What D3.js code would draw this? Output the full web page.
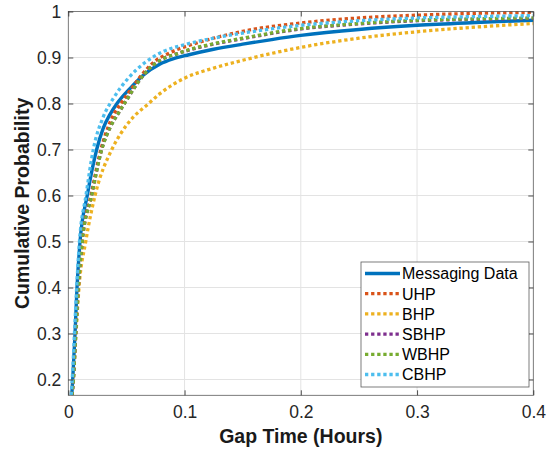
<!DOCTYPE html>
<html>
<head>
<meta charset="utf-8">
<script src="https://cdn.jsdelivr.net/npm/d3@7/dist/d3.min.js"></script>
<style>
  html, body { margin: 0; padding: 0; background: #fff; }
  svg { display: block; font-family: "Liberation Sans", Arial, Helvetica, sans-serif; }
</style>
</head>
<body>
<svg id="chart" width="552" height="452"></svg>
<script>
// Empirical CDF of message gap times and the fitted Hawkes-process models
const messagingGap  = [0.0030, 0.0038, 0.0058, 0.0075, 0.0101, 0.0163, 0.0244, 0.030, 0.036, 0.0419, 0.0532, 0.0647, 0.079, 0.090, 0.1037, 0.125, 0.150, 0.175, 0.200, 0.250, 0.300, 0.350, 0.400];
const messagingProb = [0.166, 0.200, 0.300, 0.400, 0.500, 0.600, 0.700, 0.746, 0.777, 0.800, 0.833, 0.862, 0.886, 0.897, 0.906, 0.918, 0.929, 0.939, 0.948, 0.961, 0.970, 0.976, 0.981];

const uhpGap  = [0.0031, 0.0042, 0.0062, 0.0083, 0.0115, 0.0195, 0.0280, 0.0360, 0.0474, 0.0546, 0.0618, 0.069, 0.0761, 0.0848, 0.0934, 0.1037, 0.125, 0.150, 0.200, 0.250, 0.300, 0.350, 0.400];
const uhpProb = [0.166, 0.200, 0.300, 0.400, 0.500, 0.600, 0.700, 0.760, 0.808, 0.833, 0.858, 0.879, 0.895, 0.907, 0.917, 0.926, 0.942, 0.957, 0.975, 0.986, 0.992, 0.996, 0.998];

const bhpGap  = [0.0032, 0.0043, 0.0066, 0.0092, 0.0150, 0.0230, 0.0374, 0.0455, 0.055, 0.0687, 0.0791, 0.1000, 0.125, 0.150, 0.200, 0.250, 0.300, 0.350, 0.400];
const bhpProb = [0.166, 0.200, 0.300, 0.400, 0.500, 0.600, 0.700, 0.736, 0.768, 0.799, 0.822, 0.855, 0.877, 0.894, 0.922, 0.942, 0.956, 0.966, 0.974];

const sbhpGap  = [0.0032, 0.0044, 0.0064, 0.0086, 0.0120, 0.0200, 0.0287, 0.0360, 0.0431, 0.0503, 0.0575, 0.0647, 0.0733, 0.0819, 0.0934, 0.1037, 0.125, 0.150, 0.200, 0.250, 0.300, 0.350, 0.400];
const sbhpProb = [0.166, 0.200, 0.300, 0.400, 0.500, 0.600, 0.700, 0.748, 0.779, 0.808, 0.837, 0.862, 0.884, 0.898, 0.908, 0.916, 0.929, 0.941, 0.962, 0.973, 0.980, 0.983, 0.985];

const wbhpGap  = [0.0032, 0.0044, 0.0064, 0.0086, 0.0120, 0.0201, 0.0288, 0.0360, 0.0431, 0.0503, 0.0575, 0.0647, 0.0733, 0.0819, 0.0934, 0.1037, 0.125, 0.150, 0.200, 0.250, 0.300, 0.350, 0.400];
const wbhpProb = [0.166, 0.200, 0.300, 0.400, 0.500, 0.600, 0.700, 0.748, 0.779, 0.808, 0.837, 0.862, 0.884, 0.898, 0.908, 0.917, 0.930, 0.942, 0.963, 0.974, 0.981, 0.984, 0.986];

const cbhpGap  = [0.0025, 0.0034, 0.0053, 0.0072, 0.0096, 0.0152, 0.0215, 0.0301, 0.0387, 0.0516, 0.0660, 0.0817, 0.100, 0.125, 0.150, 0.200, 0.250, 0.300, 0.350, 0.400];
const cbhpProb = [0.166, 0.200, 0.300, 0.400, 0.500, 0.600, 0.700, 0.771, 0.811, 0.855, 0.889, 0.913, 0.928, 0.942, 0.953, 0.970, 0.980, 0.986, 0.989, 0.991];

const seriesNames  = ["Messaging Data", "UHP", "BHP", "SBHP", "WBHP", "CBHP"];
const seriesColors = ["#0072BD", "#D95319", "#EDB120", "#7E2F8E", "#77AC30", "#4DBEEE"];
const xTicks = [0, 0.1, 0.2, 0.3, 0.4];
const yTicks = [0.2, 0.3, 0.4, 0.5, 0.6, 0.7, 0.8, 0.9, 1];

const series = [
  { gap: messagingGap, prob: messagingProb, dotted: false },
  { gap: uhpGap,  prob: uhpProb,  dotted: true },
  { gap: bhpGap,  prob: bhpProb,  dotted: true },
  { gap: sbhpGap, prob: sbhpProb, dotted: true },
  { gap: wbhpGap, prob: wbhpProb, dotted: true },
  { gap: cbhpGap, prob: cbhpProb, dotted: true }
].map((s, i) => ({ ...s, name: seriesNames[i], color: seriesColors[i] }));

const plotLeft = 68.3, plotRight = 533.3, plotTop = 11.5, plotBottom = 395.3;
const x = d3.scaleLinear().domain([0, 0.4]).range([plotLeft, plotRight]);
const y = d3.scaleLinear().domain([0.1657, 1]).range([plotBottom, plotTop]);

const svg = d3.select("#chart");
const axisColor = "#262626";

// grid
const grid = svg.append("g").attr("stroke", "#e3e3e3").attr("stroke-width", 1);
grid.selectAll(".gx").data(xTicks.slice(1, -1)).join("line")
  .attr("x1", d => x(d)).attr("x2", d => x(d)).attr("y1", plotTop).attr("y2", plotBottom);
grid.selectAll(".gy").data(yTicks.slice(0, -1)).join("line")
  .attr("x1", plotLeft).attr("x2", plotRight).attr("y1", d => y(d)).attr("y2", d => y(d));

// curves
svg.append("defs").append("clipPath").attr("id", "plotClip")
  .append("rect").attr("x", plotLeft).attr("y", plotTop)
  .attr("width", plotRight - plotLeft).attr("height", plotBottom - plotTop);

const line = d3.line().curve(d3.curveMonotoneX);
const curves = svg.append("g").attr("clip-path", "url(#plotClip)");
series.forEach(s => {
  const pts = s.gap.map((g, i) => [x(g), y(s.prob[i])]);
  curves.append("path")
    .attr("d", line(pts))
    .attr("fill", "none")
    .attr("stroke", s.color)
    .attr("stroke-width", s.dotted ? 3.3 : 3.4)
    .attr("stroke-dasharray", s.dotted ? "3.3 2.8" : null)
    .attr("stroke-linejoin", "round");
});

// axes (box with inward ticks on all sides)
const tickLen = 5;
const xAxisBottom = d3.axisBottom(x).tickValues(xTicks).tickSize(-tickLen).tickPadding(10).tickFormat(d3.format("~g"));
const xAxisTop = d3.axisTop(x).tickValues(xTicks).tickSize(-tickLen).tickFormat("");
const yAxisLeft = d3.axisLeft(y).tickValues(yTicks).tickSize(-tickLen).tickPadding(7).tickFormat(d3.format("~g"));
const yAxisRight = d3.axisRight(y).tickValues(yTicks).tickSize(-tickLen).tickFormat("");

function styleAxis(g) {
  g.select(".domain").remove();
  g.selectAll(".tick line").attr("stroke", axisColor).attr("stroke-width", 0.8);
  g.selectAll(".tick text").attr("fill", axisColor).style("font-size", "17.5px")
    .style("font-family", "'Liberation Sans', Arial, Helvetica, sans-serif");
}
svg.append("g").attr("transform", `translate(0,${plotBottom})`).call(xAxisBottom).call(styleAxis);
svg.append("g").attr("transform", `translate(0,${plotTop})`).call(xAxisTop).call(styleAxis);
svg.append("g").attr("transform", `translate(${plotLeft},0)`).call(yAxisLeft).call(styleAxis);
svg.append("g").attr("transform", `translate(${plotRight},0)`).call(yAxisRight).call(styleAxis);

svg.append("rect")
  .attr("x", plotLeft).attr("y", plotTop)
  .attr("width", plotRight - plotLeft).attr("height", plotBottom - plotTop)
  .attr("fill", "none").attr("stroke", axisColor).attr("stroke-width", 0.8).attr("stroke-opacity", 0.75);

// axis labels
svg.append("text")
  .attr("x", (plotLeft + plotRight) / 2).attr("y", 443)
  .attr("text-anchor", "middle")
  .style("font-size", "19.5px").style("font-weight", "bold").attr("fill", "#1a1a1a")
  .text("Gap Time (Hours)");

svg.append("text")
  .attr("transform", `translate(29,${(plotTop + plotBottom) / 2}) rotate(-90)`)
  .attr("text-anchor", "middle")
  .style("font-size", "19.5px").style("font-weight", "bold").attr("fill", "#1a1a1a")
  .text("Cumulative Probability");

// legend
const lg = svg.append("g");
const lgX = 361, lgY = 262, lgW = 168, lgH = 125, rowH = 20.2;
lg.append("rect").attr("x", lgX).attr("y", lgY).attr("width", lgW).attr("height", lgH)
  .attr("fill", "#fff").attr("stroke", axisColor).attr("stroke-width", 0.8).attr("stroke-opacity", 0.75);
series.forEach((s, i) => {
  const cy = lgY + 11.5 + i * rowH;
  lg.append("line")
    .attr("x1", lgX + 4).attr("x2", lgX + 39).attr("y1", cy).attr("y2", cy)
    .attr("stroke", s.color)
    .attr("stroke-width", s.dotted ? 3.3 : 3.4)
    .attr("stroke-dasharray", s.dotted ? "3.3 2.8" : null);
  lg.append("text")
    .attr("x", lgX + 41).attr("y", cy + 5.8)
    .style("font-size", "16px").attr("fill", "#000")
    .text(s.name);
});
</script>
</body>
</html>
